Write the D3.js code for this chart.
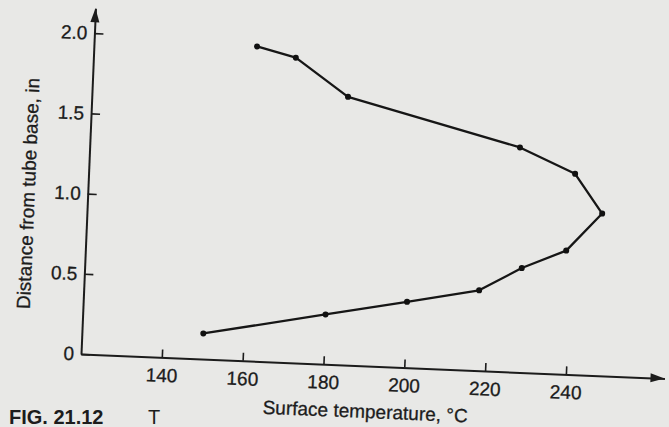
<!DOCTYPE html>
<html>
<head>
<meta charset="utf-8">
<script src="https://cdn.jsdelivr.net/npm/d3@7"></script>
<style>
    body { margin: 0; background: #e8e8e6; }
    svg { display: block; }
    text { font-family: "Liberation Sans", Arial, Helvetica, sans-serif; fill: #1c1c1c; }
</style>
</head>
<body>
<div id="graf"></div>
<script>
// Datos (temperatura en C, distancia en pulgadas)
const temperatura = [150, 180, 200, 217.7, 228, 238.8, 247.3, 240.2, 226.3, 183.3, 170, 160.3];
const distancia = [0.16, 0.31, 0.41, 0.50, 0.65, 0.77, 1.01, 1.25, 1.40, 1.67, 1.90, 1.96];
const xTicks = [140, 160, 180, 200, 220, 240];
const yTicks = [0, 0.5, 1.0, 1.5, 2.0];
const yTickLabels = ["0", "0.5", "1.0", "1.5", "2.0"];

const data = temperatura.map((t, i) => ({ t: t, d: distancia[i] }));

// Dimensiones
const anchoTotal = 669;
const altoTotal = 427;
const origen = { x: 81, y: 354 };
const giro = 2.4; // the scan is slightly rotated
const ancho = 584;
const alto = 346;

const svg = d3.select("#graf")
    .append("svg")
    .attr("width", anchoTotal)
    .attr("height", altoTotal);

svg.append("rect").attr("width", anchoTotal).attr("height", altoTotal).attr("fill", "#e8e8e6");

const g = svg.append("g")
    .attr("transform", `translate(${origen.x}, ${origen.y}) rotate(${giro})`);

// Escaladores
const x = d3.scaleLinear().domain([120, 264.4]).range([0, ancho]);
const y = d3.scaleLinear().domain([0, 2.155]).range([0, -alto]);

// Ejes
const xAxis = d3.axisBottom(x)
    .tickValues(xTicks)
    .tickSize(-8)
    .tickSizeOuter(0)
    .tickPadding(11);
const yAxis = d3.axisLeft(y)
    .tickValues(yTicks)
    .tickFormat((d, i) => yTickLabels[i])
    .tickSize(-9)
    .tickSizeOuter(0)
    .tickPadding(7);

const xAxisGroup = g.append("g").call(xAxis);
const yAxisGroup = g.append("g").call(yAxis);

[xAxisGroup, yAxisGroup].forEach((ax) => {
    ax.select(".domain").attr("stroke", "#1c1c1c").attr("stroke-width", 2);
    ax.selectAll(".tick line").attr("stroke", "#1c1c1c").attr("stroke-width", 1.6);
    ax.selectAll(".tick text")
        .attr("font-size", 19)
        .attr("fill", "#1c1c1c")
        .attr("stroke", "#1c1c1c")
        .attr("stroke-width", 0.3)
        .style("font-family", "'Liberation Sans', Arial, sans-serif");
});

// Flechas de los ejes
g.append("path")
    .attr("d", `M${x(264.4)},0 l-14,-4.5 l0,9 Z`)
    .attr("fill", "#1c1c1c");
g.append("path")
    .attr("d", `M0,${y(2.155)} l-4.5,14 l9,0 Z`)
    .attr("fill", "#1c1c1c");

// Titulos de ejes
g.append("text")
    .attr("x", x(190.8))
    .attr("y", 52)
    .attr("text-anchor", "middle")
    .attr("font-size", 19)
    .attr("stroke", "#1c1c1c")
    .attr("stroke-width", 0.3)
    .text("Surface temperature, °C");

g.append("text")
    .attr("transform", `translate(-53, ${y(0.985)}) rotate(-90)`)
    .attr("text-anchor", "middle")
    .attr("font-size", 19)
    .attr("stroke", "#1c1c1c")
    .attr("stroke-width", 0.3)
    .text("Distance from tube base, in");

// Curva
const linea = d3.line()
    .x((d) => x(d.t))
    .y((d) => y(d.d));

g.append("path")
    .datum(data)
    .attr("d", linea)
    .attr("fill", "none")
    .attr("stroke", "#161616")
    .attr("stroke-width", 2.3)
    .attr("stroke-linejoin", "round");

g.selectAll("circle")
    .data(data)
    .enter()
    .append("circle")
    .attr("cx", (d) => x(d.t))
    .attr("cy", (d) => y(d.d))
    .attr("r", 3)
    .attr("fill", "#111");

// Pie de figura
svg.append("text")
    .attr("x", 9)
    .attr("y", 424)
    .attr("font-size", 20)
    .attr("font-weight", "bold")
    .text("FIG. 21.12");
svg.append("text")
    .attr("x", 148)
    .attr("y", 424)
    .attr("font-size", 20)
    .text("T");
</script>
</body>
</html>
